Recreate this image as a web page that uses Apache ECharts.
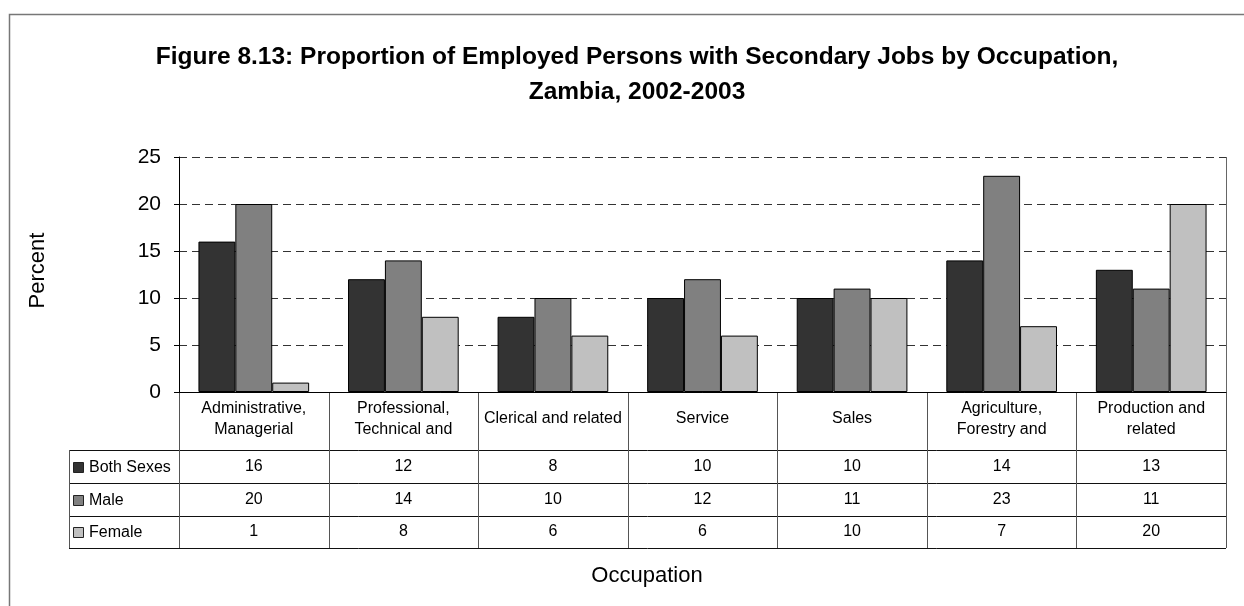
<!DOCTYPE html>
<html>
<head>
<meta charset="utf-8">
<script src="https://cdn.jsdelivr.net/npm/echarts@6/dist/echarts.min.js"></script>
<style>
    html, body { margin: 0; padding: 0; background: #fff; }
    #chart { width: 1244px; height: 606px; }
</style>
</head>
<body>
<div id="chart"></div>
<script>
var categories = ['Administrative,\nManagerial', 'Professional,\nTechnical and', 'Clerical and related',
    'Service', 'Sales', 'Agriculture,\nForestry and', 'Production and\nrelated'];
var seriesNames = ['Both Sexes', 'Male', 'Female'];
var bothSexes = [16, 12, 8, 10, 10, 14, 13];
var male = [20, 14, 10, 12, 11, 23, 11];
var female = [1, 8, 6, 6, 10, 7, 20];
var yTicks = [0, 5, 10, 15, 20, 25];

var colors = ['#333333', '#808080', '#c0c0c0'];
var font = 'Arial, "Liberation Sans", sans-serif';

// plot area
var plotLeft = 179, plotRight = 1226, plotTop = 157, plotBottom = 392;
var legendLeft = 69;
var rowY = [392, 450, 483, 516, 548];

var myChart = echarts.init(document.getElementById('chart'));

function tableGraphics() {
    var g = [];
    var colW = (plotRight - plotLeft) / categories.length;
    var line = function (x1, y1, x2, y2, c) {
        g.push({
            type: 'line', silent: true,
            shape: {x1: x1, y1: y1, x2: x2, y2: y2},
            style: {stroke: c || '#111', lineWidth: 1}
        });
    };
    // outer chart frame (only top and left visible)
    g.push({
        type: 'rect', silent: true,
        shape: {x: 9.5, y: 14.5, width: 1300, height: 700},
        style: {fill: 'none', stroke: '#777', lineWidth: 1.5}
    });
    // horizontal rows
    for (var r = 1; r < rowY.length; r++) {
        line(legendLeft, rowY[r] + 0.5, plotRight, rowY[r] + 0.5);
    }
    // vertical lines
    for (var c = 0; c <= categories.length; c++) {
        var x = Math.round(plotLeft + c * colW) + 0.5;
        line(x, plotBottom, x, rowY[4], '#555');
    }
    line(plotRight + 0.5, plotTop, plotRight + 0.5, plotBottom, '#666');
    line(legendLeft + 0.5, rowY[1], legendLeft + 0.5, rowY[4], '#555');

    var rows = [bothSexes, male, female];
    for (var s = 0; s < rows.length; s++) {
        var cy = (rowY[s + 1] + rowY[s + 2]) / 2;
        g.push({
            type: 'rect', silent: true,
            shape: {x: legendLeft + 4.5, y: Math.round(cy - 5) + 0.5, width: 10, height: 10},
            style: {fill: colors[s], stroke: '#222', lineWidth: 1}
        });
        g.push({
            type: 'text', silent: true,
            x: legendLeft + 20, y: cy + 1,
            style: {text: seriesNames[s], font: '16px ' + font, fill: '#000', verticalAlign: 'middle'}
        });
        for (var i = 0; i < rows[s].length; i++) {
            g.push({
                type: 'text', silent: true,
                x: plotLeft + (i + 0.5) * colW, y: cy,
                style: {text: String(rows[s][i]), font: '16px ' + font, fill: '#000',
                    align: 'center', verticalAlign: 'middle'}
            });
        }
    }
    g.push({
        type: 'text', silent: true,
        x: 647, y: 576,
        style: {text: 'Occupation', font: '22px ' + font, fill: '#000', align: 'center', verticalAlign: 'middle'}
    });
    return g;
}

function barSeries(name, data, idx) {
    return {
        name: name,
        type: 'bar',
        data: data,
        barGap: '0%',
        barCategoryGap: '26%',
        itemStyle: {color: colors[idx], borderColor: '#000', borderWidth: 1},
        emphasis: {disabled: true}
    };
}

option = {
    animation: false,
    backgroundColor: '#fff',
    title: {
        text: 'Figure 8.13: Proportion of Employed Persons with Secondary Jobs by Occupation,\nZambia, 2002-2003',
        left: 632,
        top: 35,
        textAlign: 'center',
        textStyle: {
            fontFamily: font,
            fontSize: 24.5,
            fontWeight: 'bold',
            color: '#000',
            lineHeight: 35
        }
    },
    grid: {
        left: plotLeft,
        right: 1244 - plotRight,
        top: plotTop,
        bottom: 606 - plotBottom,
        containLabel: false
    },
    xAxis: {
        type: 'category',
        data: categories,
        axisLine: {lineStyle: {color: '#000', width: 1}},
        axisTick: {show: false},
        axisLabel: {
            interval: 0,
            margin: 27,
            verticalAlign: 'middle',
            fontFamily: font,
            fontSize: 16,
            lineHeight: 21,
            color: '#000'
        }
    },
    yAxis: {
        type: 'value',
        min: yTicks[0],
        max: yTicks[yTicks.length - 1],
        interval: 5,
        name: 'Percent',
        nameLocation: 'middle',
        nameGap: 130,
        nameTextStyle: {fontFamily: font, fontSize: 22, color: '#000', padding: [0, 0, 0, 8]},
        axisLine: {show: true, lineStyle: {color: '#000', width: 1}},
        axisTick: {show: true, length: 5, lineStyle: {color: '#000'}},
        axisLabel: {margin: 18, fontFamily: font, fontSize: 21, color: '#000'},
        splitLine: {
            show: true,
            lineStyle: {color: '#333', type: [8, 5], width: 1}
        }
    },
    series: [
        barSeries(seriesNames[0], bothSexes, 0),
        barSeries(seriesNames[1], male, 1),
        barSeries(seriesNames[2], female, 2)
    ],
    graphic: tableGraphics()
};
myChart.setOption(option);
</script>
</body>
</html>
